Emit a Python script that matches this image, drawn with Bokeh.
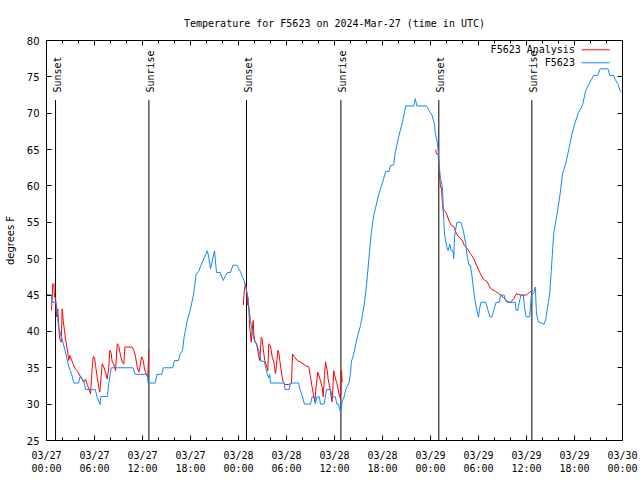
import math
from bokeh.plotting import figure
from bokeh.models import LinearAxis, FixedTicker, Range1d
from bokeh.core.properties import value
from bokeh.embed import file_html
from bokeh.resources import INLINE

# ---------------- data (hours since 2024-03-27 00:00 UTC) ----------------
title_text = "Temperature for F5623 on 2024-Mar-27 (time in UTC)"
y_label = "degrees F"
series_names = ["F5623 Analysis", "F5623"]

x_major_ticks = [0, 6, 12, 18, 24, 30, 36, 42, 48, 54, 60, 66, 72]
x_tick_labels = ["03/27\n00:00", "03/27\n06:00", "03/27\n12:00", "03/27\n18:00",
                 "03/28\n00:00", "03/28\n06:00", "03/28\n12:00", "03/28\n18:00",
                 "03/29\n00:00", "03/29\n06:00", "03/29\n12:00", "03/29\n18:00",
                 "03/30\n00:00"]
y_ticks = [25, 30, 35, 40, 45, 50, 55, 60, 65, 70, 75, 80]

event_hours = [1.13, 12.8, 25.0, 36.8, 49.04, 60.67]
event_names = ["Sunset", "Sunrise", "Sunset", "Sunrise", "Sunset", "Sunrise"]

obs_hours = [0.0, 0.6, 0.7, 1.2, 1.3, 1.5, 2.0, 2.4, 2.8, 3.2, 3.4, 4.0, 4.25, 4.7, 4.9, 6.1, 6.3, 6.7,
             6.8, 7.6, 7.8, 8.1, 10.8, 11.1, 12.6, 12.7, 13.6, 13.8, 14.4, 14.6, 15.8, 16.0, 16.5,
             16.7, 17.0, 17.2, 17.6, 18.0, 18.4, 18.7, 19.0, 19.3, 19.7, 20.1, 20.3, 20.5, 20.8,
             21.0, 21.25, 21.7, 22.1, 22.3, 22.6, 23.0, 23.3, 23.8, 24.25, 24.5, 24.7, 24.9, 25.1,
             25.3, 25.5, 25.7, 25.9, 26.3, 26.7, 26.8, 27.2, 27.4, 27.6, 27.8, 27.9, 28.0, 29.75,
             29.8, 30.3, 30.5, 31.5, 31.7, 32.0, 32.25, 33.0, 33.2, 33.5, 33.6, 33.8, 34.1, 34.25,
             34.7, 34.85, 35.0, 35.5, 35.7, 36.1, 36.3, 36.5, 36.75, 37.0, 37.2, 37.4, 37.8, 38.0,
             38.1, 38.4, 38.8, 39.25, 39.7, 40.0, 40.3, 40.6, 40.9, 41.3, 41.6, 41.96, 42.4, 42.8,
             43.0, 43.4, 43.6, 44.0, 44.5, 44.9, 45.9, 46.1, 46.3, 47.5, 47.8, 48.2, 48.5, 48.6,
             48.8, 49.0, 49.1, 49.25, 49.5, 49.6, 49.75, 50.0, 50.2, 50.4, 50.6, 50.8, 50.9, 51.0,
             51.3, 51.8, 52.1, 52.4, 52.6, 52.8, 53.0, 53.2, 53.4, 53.6, 53.8, 54.0, 54.1, 54.3,
             54.9, 55.2, 55.4, 55.7, 55.9, 56.2, 56.6, 56.75, 57.2, 57.4, 57.6, 58.6, 58.7, 58.9,
             59.1, 59.3, 59.6, 59.8, 59.96, 60.4, 60.6, 60.9, 61.1, 61.25, 61.5, 62.2, 62.4, 62.7,
             62.9, 63.1, 63.4, 63.75, 64.2, 64.5, 64.9, 65.3, 65.7, 66.1, 66.5, 67.0, 67.4, 67.8,
             68.1, 68.4, 68.9, 69.2, 70.2, 70.4, 70.9, 71.1, 71.4, 71.7, 71.9]
obs_temps = [45.1, 45.0, 44.0, 44.0, 43.1, 40.6, 38.75, 37.0, 35.1, 33.9, 32.9, 32.9, 33.9, 32.9, 32.0,
             32.0, 31.05, 29.95, 31.05, 31.05, 33.0, 35.0, 35.0, 34.1, 34.1, 32.9, 32.9, 34.1, 34.1,
             35.0, 35.0, 36.0, 36.0, 36.9, 37.35, 39.2, 41.5, 43.1, 45.2, 47.9, 48.2, 49.1, 50.1,
             51.1, 50.1, 48.6, 50.1, 51.1, 48.1, 48.1, 47.0, 47.5, 48.1, 48.1, 49.1, 49.1, 48.2,
             47.5, 47.0, 46.1, 45.2, 43.3, 41.5, 40.1, 39.0, 38.1, 36.9, 35.9, 35.9, 35.0, 34.1,
             33.6, 34.1, 32.9, 32.9, 32.0, 32.0, 32.9, 32.9, 32.0, 31.0, 30.0, 30.0, 31.0, 31.0,
             30.0, 31.0, 31.0, 30.0, 30.0, 31.0, 32.0, 32.0, 31.0, 31.0, 30.0, 30.0, 28.9, 30.5,
             31.0, 32.0, 32.9, 34.2, 35.8, 36.9, 39.0, 40.8, 43.6, 46.3, 50.0, 53.6, 55.9, 57.8,
             59.1, 60.3, 62.0, 62.0, 62.8, 62.9, 64.6, 66.7, 68.8, 71.0, 71.0, 72.0, 71.0, 71.0,
             70.4, 69.7, 68.5, 67.2, 66.3, 64.4, 62.6, 61.0, 59.8, 56.6, 53.4, 51.8, 51.1, 52.0,
             51.1, 51.1, 50.0, 53.0, 55.0, 55.0, 53.9, 52.05, 50.2, 49.1, 49.1, 47.5, 45.6, 44.0,
             42.9, 41.95, 42.9, 44.0, 44.0, 42.9, 42.0, 42.0, 42.9, 44.0, 44.0, 45.0, 45.0, 44.2,
             44.0, 44.0, 42.9, 42.9, 44.0, 45.0, 45.0, 42.9, 42.0, 42.0, 44.9, 45.3, 46.1, 42.4,
             41.3, 41.0, 41.6, 43.8, 45.2, 48.4, 53.4, 55.7, 58.9, 61.7, 63.05, 65.1, 67.2, 68.8,
             70.1, 71.1, 73.1, 74.0, 74.6, 75.2, 75.2, 76.1, 76.1, 75.2, 75.2, 74.6, 74.1, 73.1, 72.9]

nan = float("nan")
analysis_hours = [0.63, 0.79, 0.91, 1.0, 1.13, 1.25, 1.41, 1.54, 1.63, 1.84, 1.96, 2.09, 2.25, 2.41,
                  2.59, 2.79, 2.91, 3.09, 3.34, 3.63, 3.91, 4.16, 4.46, 4.66, 4.88, 5.09, 5.29, 5.5,
                  5.71, 5.84, 6.0, 6.13, 6.34, 6.54, 6.66, 6.84, 6.96, 7.16, 7.38, 7.59, 7.79, 7.91,
                  8.09, 8.21, 8.41, 8.63, 8.84, 9.04, 9.25, 9.46, 9.66, 9.79, 10.71, 10.91, 11.13,
                  11.34, 11.54, 11.75, 11.88, 12.09, 12.25, 12.5, 12.66, 12.79, nan,
                  24.59, 24.75, 24.88, 25.0, 25.09, 25.16, 25.29, 25.41, 25.59, 25.71, 25.84, 25.91,
                  26.04, 26.25, 26.41, 26.54, 26.66, 26.84, 26.96, 27.09, 27.29, 27.5, 27.66, 27.79,
                  28.0, 28.21, 28.41, 28.63, 28.75, 28.91, 29.04, 29.16, 29.34, 29.46, 29.59, 29.88,
                  30.29, 30.63, 30.75, 30.91, 31.34, 31.75, 32.38, 32.79, 33.0, 33.21, 33.41, 33.54,
                  33.66, 33.91, 34.04, 34.25, 34.46, 34.59, 34.75, 34.88, 35.09, 35.21, 35.41, 35.59,
                  35.71, 35.91, 36.04, 36.25, 36.41, 36.63, 36.75, 36.88, 36.96, nan,
                  48.63, 48.75, 48.96, 49.04, 49.25, 49.38, 49.46, 49.59, 49.75, 50.0, 50.29, 50.59,
                  50.91, 51.25, 51.54, 51.96, 52.25, 52.59, 53.0, 53.41, 53.75, 54.16, 54.59, 55.09,
                  55.5, 56.13, 56.54, 57.09, 57.5, 57.79, 58.0, 58.41, 58.75, 59.25, 60.0, 60.29, 60.71]
analysis_temps = [42.9, 46.55, 46.55, 44.7, 44.7, 42.0, 43.1, 40.6, 39.1, 38.5, 43.1, 41.5, 40.1, 38.75,
                  37.6, 36.0, 36.7, 36.2, 35.5, 34.8, 34.5, 33.9, 33.45, 33.0, 33.45, 32.7, 32.1, 31.4,
                  34.9, 36.55, 36.4, 35.3, 33.7, 32.3, 31.65, 33.9, 35.55, 35.1, 34.4, 33.45, 35.1, 37.4,
                  37.0, 35.8, 35.5, 34.6, 38.3, 37.9, 36.7, 35.8, 35.5, 37.85, 37.85, 37.4, 36.5,
                  35.1, 34.4, 35.5, 36.5, 36.0, 34.8, 34.0, 33.7, 37.4, nan,
                  43.6, 45.9, 46.55, 45.7, 43.6, 44.7, 43.1, 40.6, 38.5, 40.1, 41.5, 39.8,
                  38.5, 38.4, 37.4, 36.5, 36.0, 39.2, 38.9, 37.6, 36.0, 35.3, 34.6, 38.3,
                  38.0, 36.5, 35.8, 34.2, 35.3, 37.4, 37.1, 36.0, 34.6, 33.7, 33.0, 32.7,
                  32.7, 32.9, 36.9, 36.6, 36.0, 35.8, 35.3, 35.1, 33.7, 32.3, 31.0, 30.3,
                  31.9, 34.4, 34.0, 33.2, 32.3, 31.0, 33.9, 35.8, 34.6, 33.4, 32.3, 31.0,
                  30.3, 34.6, 33.9, 33.0, 32.3, 31.1, 30.8, 34.6, 33.0, nan,
                  65.0, 64.4, 64.4, 62.6, 59.8, 59.8, 58.0, 56.6, 56.6, 56.2, 55.25, 54.6,
                  54.4, 53.4, 53.0, 52.5, 51.8, 51.4, 50.7, 50.0, 49.1, 48.1, 47.2, 46.8,
                  45.9, 45.5, 45.2, 44.7, 44.25, 44.0, 44.0, 44.5, 45.2, 45.0, 45.0, 45.3, 45.6]

# ---------------- styling constants ----------------
BLUE = "#1188ff"
RED = "#ff0000"
MONO = "DejaVu Sans Mono"
SANS = "DejaVu Sans"
X0, X1, Y0, Y1 = 0, 72, 25, 80
EVENT_LINE_TOP = 71.8      # top of sunrise/sunset markers (degrees F)
EVENT_LABEL_Y = 72.85      # bottom of rotated labels
LEGEND_TEXT_X = 66.05
LEGEND_LINE_X = (66.9, 70.4)
LEGEND_ROWS_Y = (78.72, 76.93)

p = figure(width=640, height=480, output_backend="svg", toolbar_location=None,
           x_range=Range1d(X0, X1), y_range=Range1d(Y0, Y1),
           min_border_left=46, min_border_right=18, min_border_top=40, min_border_bottom=40,
           title=title_text, background_fill_color="white", border_fill_color="white")
p.grid.visible = False
p.outline_line_color = "black"
p.outline_line_width = 1
p.title.align = "center"
p.title.text_font = MONO
p.title.text_font_size = "10px"
p.title.text_font_style = "normal"
p.title.text_color = "black"
p.title.standoff = 24

x_minor = [h for h in range(0, 73, 2) if h % 6 != 0]
xt = FixedTicker(ticks=x_major_ticks, minor_ticks=x_minor)
yt = FixedTicker(ticks=y_ticks, minor_ticks=[])

xa = p.xaxis[0]
xa.ticker = xt
xa.major_label_overrides = {t: l for t, l in zip(x_major_ticks, x_tick_labels)}
xa.major_label_text_font = MONO
xa.major_label_text_font_size = "10px"
xa.major_label_text_color = "black"
xa.major_label_standoff = 9
xa.major_tick_in = 5
xa.major_tick_out = 0
xa.minor_tick_in = 3
xa.minor_tick_out = 0
xa.axis_line_color = "black"

ya = p.yaxis[0]
ya.ticker = yt
ya.major_label_text_font = SANS
ya.major_label_text_font_size = "10px"
ya.major_label_text_color = "black"
ya.major_label_standoff = 7
ya.major_tick_in = 5
ya.major_tick_out = 0
ya.minor_tick_line_color = None
ya.axis_label = y_label
ya.axis_label_text_font = SANS
ya.axis_label_text_font_size = "10px"
ya.axis_label_text_font_style = "normal"
ya.axis_label_text_color = "black"
ya.axis_label_standoff = 8

top = LinearAxis(ticker=xt, major_label_overrides={t: "" for t in x_major_ticks},
                 major_tick_in=5, major_tick_out=0,
                 minor_tick_in=3, minor_tick_out=0, major_label_standoff=0)
p.add_layout(top, "above")
right = LinearAxis(ticker=yt, major_label_overrides={t: "" for t in y_ticks},
                   major_tick_in=5, major_tick_out=0,
                   minor_tick_line_color=None, major_label_standoff=0)
p.add_layout(right, "right")

# sunrise / sunset markers
p.segment(x0=event_hours, y0=[Y0] * len(event_hours), x1=event_hours,
          y1=[EVENT_LINE_TOP] * len(event_hours), line_color="black", line_width=1)
p.text(x=event_hours, y=[EVENT_LABEL_Y] * len(event_hours), text=event_names,
       angle=math.pi / 2, text_align="left", text_baseline="middle", x_offset=1.5,
       text_font=value(MONO), text_font_size="10px", text_color="black")

# series
p.line(analysis_hours, analysis_temps, line_color=RED, line_width=1)
p.line(obs_hours, obs_temps, line_color=BLUE, line_width=1)

# gnuplot-style key (text right-aligned, sample to the right)
p.text(x=[LEGEND_TEXT_X] * 2, y=list(LEGEND_ROWS_Y), text=series_names,
       text_align="right", text_baseline="middle",
       text_font=value(MONO), text_font_size="10px", text_color="black")
p.segment(x0=[LEGEND_LINE_X[0]] * 2, y0=list(LEGEND_ROWS_Y), x1=[LEGEND_LINE_X[1]] * 2,
          y1=list(LEGEND_ROWS_Y), line_color=[RED, BLUE], line_width=1)

open("out.html", "w").write(file_html(p, INLINE))
